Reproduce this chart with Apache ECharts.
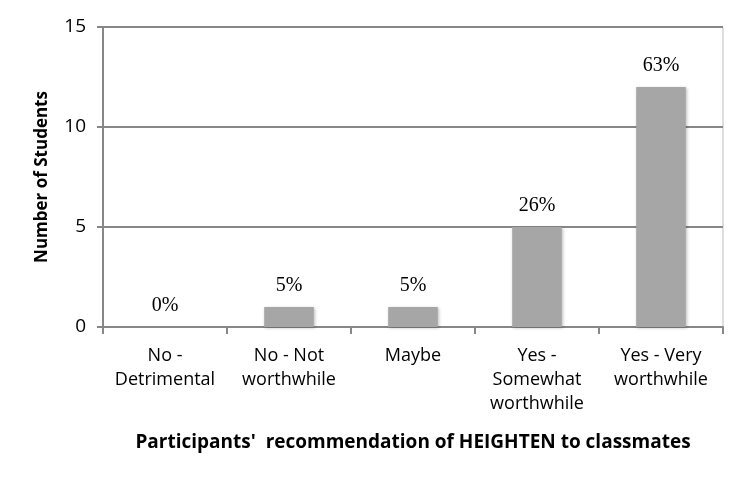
<!DOCTYPE html>
<html>
<head>
<meta charset="utf-8">
<script src="https://cdn.jsdelivr.net/npm/echarts@6/dist/echarts.min.js"></script>
<style>
  html, body { margin: 0; padding: 0; background: #fff; }
  #chart { width: 749px; height: 478px; }
</style>
</head>
<body>
<div id="chart"></div>
<script>
// data
var categories = ['No -\nDetrimental', 'No - Not\nworthwhile', 'Maybe', 'Yes -\nSomewhat\nworthwhile', 'Yes - Very\nworthwhile'];
var students = [0, 1, 1, 5, 12];
var percentLabels = ['0%', '5%', '5%', '26%', '63%'];
var yTicks = [0, 5, 10, 15];

var chart = echarts.init(document.getElementById('chart'));

var option = {
  animation: false,
  grid: {
    left: 103, right: 26, top: 27, bottom: 151,
    show: true, borderColor: '#bdbdbd', borderWidth: 1, backgroundColor: 'transparent'
  },
  xAxis: {
    type: 'category',
    data: categories,
    name: "Participants'  recommendation of HEIGHTEN to classmates",
    nameLocation: 'middle',
    nameGap: 106,
    nameTextStyle: { fontFamily: 'Open Sans', fontWeight: 'bold', fontSize: 19, color: '#000' },
    axisLine: { lineStyle: { color: '#878787', width: 2 } },
    axisTick: { show: true, length: 7, lineStyle: { color: '#878787', width: 2 } },
    axisLabel: { fontFamily: 'Open Sans', fontSize: 18, color: '#000', lineHeight: 24, margin: 17, interval: 0 }
  },
  yAxis: {
    type: 'value',
    min: 0, max: 15, interval: 5,
    name: 'Number of Students',
    nameLocation: 'middle',
    nameGap: 52,
    nameRotate: 90,
    nameTextStyle: { fontFamily: 'Open Sans', fontWeight: 'bold', fontSize: 17, color: '#000' },
    axisLine: { show: true, lineStyle: { color: '#878787', width: 2 } },
    axisTick: { show: true, length: 6, lineStyle: { color: '#878787', width: 2 } },
    axisLabel: {
      fontFamily: 'Open Sans', fontSize: 19, color: '#000', margin: 17,
      formatter: function (v) { return yTicks.indexOf(v) >= 0 ? String(v) : ''; }
    },
    splitLine: { lineStyle: { color: '#878787', width: 2 } }
  },
  series: [{
    type: 'bar',
    data: students,
    barWidth: '40%',
    itemStyle: { color: '#a6a6a6', shadowColor: 'rgba(0,0,0,0.25)', shadowBlur: 3, shadowOffsetX: 1, shadowOffsetY: 1 },
    label: {
      show: true,
      position: 'top',
      distance: 11,
      fontFamily: 'Liberation Serif',
      fontSize: 20,
      color: '#000',
      formatter: function (p) { return percentLabels[p.dataIndex]; }
    }
  }]
};

chart.setOption(option);
</script>
</body>
</html>
